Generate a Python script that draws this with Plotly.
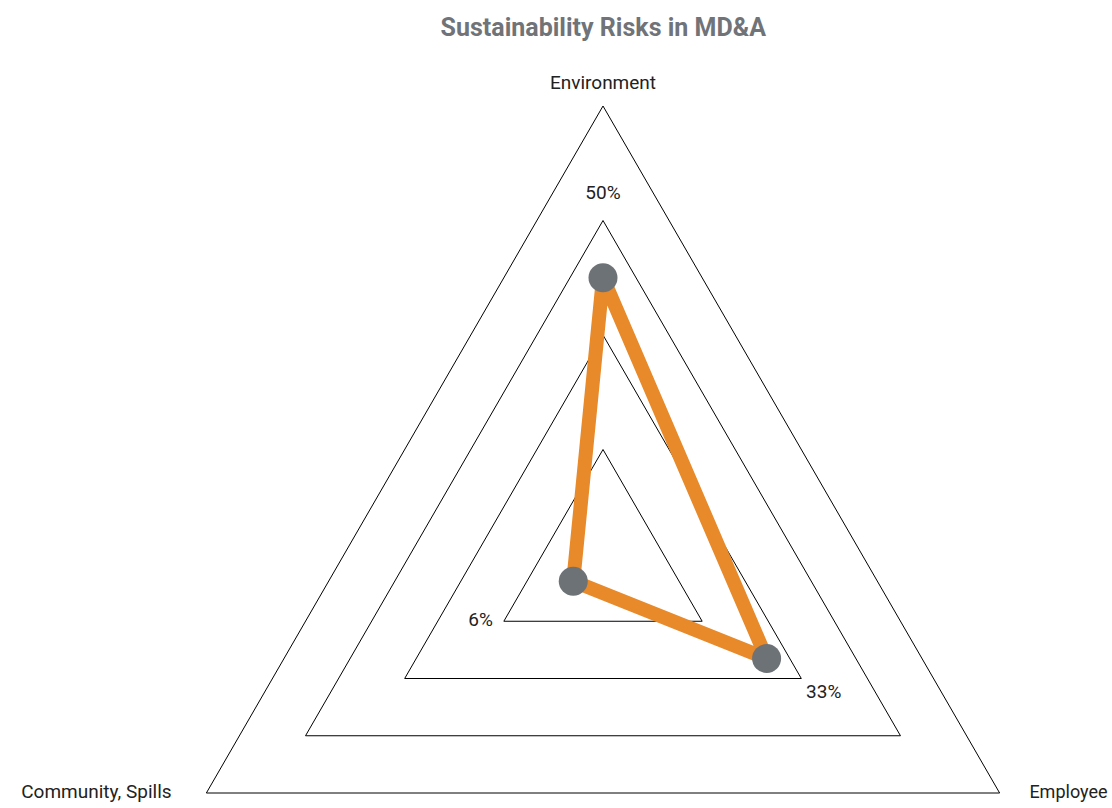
import math
import plotly.graph_objects as go

# Share of MD&A sections citing each sustainability risk (%)
categories = ["Environment", "Employee", "Community, Spills"]
values = [50, 33, 6]
value_labels = ["50%", "33%", "6%"]

# Radial scale: gridlines every 20 points up to 80
grid_step = 20
r_max = 80

ORANGE = "#E8892A"
GREY = "#6D7277"
INK = "#222222"
FONT = "Roboto, 'DejaVu Sans', sans-serif"

# Value labels sit on the next gridline vertex above each value
label_r = [math.ceil(v / grid_step) * grid_step for v in values]

fig = go.Figure()

# Closed outline of the risk profile with a dot at each axis
fig.add_trace(go.Scatterpolar(
    r=values + values[:1],
    theta=categories + categories[:1],
    mode="lines",
    line=dict(color=ORANGE, width=14),
    hoverinfo="skip",
    showlegend=False,
))
fig.add_trace(go.Scatterpolar(
    r=values,
    theta=categories,
    mode="markers",
    marker=dict(color=GREY, size=29),
    hovertemplate="%{theta}: %{r}%<extra></extra>",
    showlegend=False,
))

# Value labels; the invisible marker size sets each label's gap from its vertex
fig.add_trace(go.Scatterpolar(
    r=label_r,
    theta=categories,
    mode="markers+text",
    text=value_labels,
    textposition=["top center", "bottom right", "middle left"],
    textfont=dict(family=FONT, size=19, color=INK),
    marker=dict(size=[26, 6, 16], opacity=0),
    cliponaxis=False,
    hoverinfo="skip",
    showlegend=False,
))

# Axis names beside the outer triangle's corners
fig.add_trace(go.Scatterpolar(
    r=[r_max] * len(categories),
    theta=categories,
    mode="markers+text",
    text=categories,
    textposition=["top center", "middle right", "middle left"],
    textfont=dict(family=FONT, size=[19, 18, 19], color=INK),
    marker=dict(size=[18, 46, 54], opacity=0),
    cliponaxis=False,
    hoverinfo="skip",
    showlegend=False,
))

fig.update_layout(
    width=1112,
    height=1030,
    margin=dict(l=145, r=51, t=106, b=8),
    paper_bgcolor="white",
    plot_bgcolor="white",
    title=dict(
        text="Sustainability Risks in MD&A",
        x=0.5425,
        xanchor="center",
        y=1 - 27 / 1030,
        yanchor="middle",
        font=dict(family=FONT, size=25, color="#707377", weight="bold"),
    ),
    polar=dict(
        bgcolor="white",
        gridshape="linear",
        radialaxis=dict(
            range=[0, r_max],
            tickvals=list(range(grid_step, r_max, grid_step)),
            showticklabels=False,
            ticks="",
            showline=False,
            gridcolor="black",
            gridwidth=1,
        ),
        angularaxis=dict(
            direction="clockwise",
            rotation=90,
            categoryorder="array",
            categoryarray=categories,
            showgrid=False,
            showline=True,
            linecolor="black",
            linewidth=1,
            ticks="",
            showticklabels=False,
        ),
    ),
)

fig.write_html("out.html")
